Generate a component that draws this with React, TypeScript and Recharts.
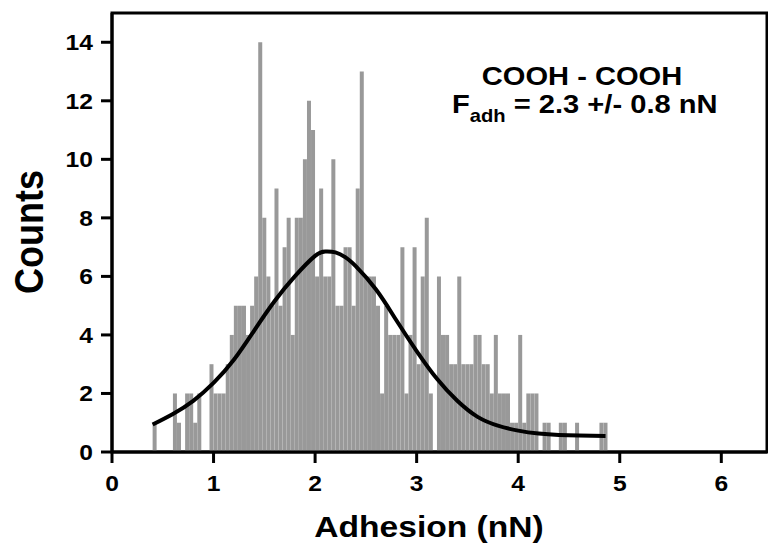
import React from 'react';
import {
  ComposedChart,
  Bar,
  Line,
  XAxis,
  YAxis,
  ReferenceArea,
  Customized,
} from 'recharts';

// Histogram: adhesion force bins (nN), counts per bin
const BIN_START = 0.4;
const BIN_WIDTH = 0.04;
const COUNTS = [
  1, 0, 0, 0, 0, 2, 1, 0, 2, 2,
  1, 2, 0, 0, 3, 2, 2, 2, 3, 4,
  5, 5, 5, 4, 5, 6, 14, 8, 6, 5,
  9, 5, 7, 8, 4, 8, 8, 10, 12, 11,
  6, 9, 6, 6, 10, 5, 5, 7, 7, 5,
  9, 13, 6, 6, 6, 5, 2, 5, 4, 4,
  4, 7, 2, 4, 7, 3, 6, 8, 2, 0,
  6, 4, 4, 3, 3, 6, 3, 3, 3, 4,
  4, 3, 3, 2, 4, 2, 2, 2, 1, 1,
  4, 1, 2, 2, 2, 0, 1, 1, 0, 0,
  1, 1, 0, 0, 1, 0, 0, 0, 0, 0,
  1, 1, 0,
];

// Gaussian fit curve
const FIT_X = [0.4, 0.6, 0.8, 1.0, 1.2, 1.4, 1.6, 1.8, 2.0, 2.1, 2.2, 2.3, 2.4, 2.6, 2.8, 3.0, 3.2, 3.4, 3.6, 3.8, 4.0, 4.2, 4.4, 4.6, 4.86];
const FIT_Y = [0.94, 1.3, 1.75, 2.36, 3.15, 4.15, 5.15, 6.0, 6.7, 6.85, 6.82, 6.65, 6.35, 5.55, 4.5, 3.45, 2.5, 1.75, 1.2, 0.9, 0.73, 0.63, 0.58, 0.56, 0.55];

const X_TICKS = [0, 1, 2, 3, 4, 5, 6];
const Y_TICKS = [0, 2, 4, 6, 8, 10, 12, 14];
const X_DOMAIN = [0, 6.45];
const Y_DOMAIN = [0, 15];

const TITLE_LINE1 = 'COOH - COOH';
const FIT_LABEL_MAIN = 'F';
const FIT_LABEL_SUB = 'adh';
const FIT_LABEL_REST = ' = 2.3 +/- 0.8 nN';
const X_TITLE = 'Adhesion (nN)';
const Y_TITLE = 'Counts';

const histData = COUNTS.map((c, i) => ({
  x: +(BIN_START + BIN_WIDTH * (i + 0.5)).toFixed(3),
  count: c,
}));
const fitData = FIT_X.map((x, i) => ({ x, fit: FIT_Y[i] }));

const FONT = '"Liberation Sans", Arial, Helvetica, sans-serif';
const SX = 1.12;

const XTick = (props: any) => {
  const { x, y, payload } = props;
  return (
    <text
      transform={`translate(${x},${y}) scale(${SX},1)`}
      textAnchor="middle"
      dy="0.71em"
      fontSize={22}
      fontWeight="bold"
      fontFamily={FONT}
      fill="#000"
    >
      {payload.value}
    </text>
  );
};

const YTick = (props: any) => {
  const { x, y, payload } = props;
  return (
    <text
      transform={`translate(${x},${y}) scale(${SX},1)`}
      textAnchor="end"
      dy="0.355em"
      fontSize={22}
      fontWeight="bold"
      fontFamily={FONT}
      fill="#000"
    >
      {payload.value}
    </text>
  );
};

const Annotations = () => (
  <g fontFamily={FONT} fontWeight="bold" fill="#000">
    <text transform={`translate(582,85) scale(${SX},1)`} textAnchor="middle" fontSize={26}>
      {TITLE_LINE1}
    </text>
    <text transform={`translate(452,112.5) scale(${SX},1)`} textAnchor="start" fontSize={26}>
      <tspan>{FIT_LABEL_MAIN}</tspan>
      <tspan fontSize={18} dy={9}>{FIT_LABEL_SUB}</tspan>
      <tspan fontSize={26} dy={-9}>{FIT_LABEL_REST}</tspan>
    </text>
    <text transform={`translate(429,536.5) scale(${SX},1)`} textAnchor="middle" fontSize={30}>
      {X_TITLE}
    </text>
    <text transform={`translate(43,232) scale(${SX},1) rotate(-90)`} textAnchor="middle" fontSize={36}>
      {Y_TITLE}
    </text>
  </g>
);

export default function App() {
  return (
    <div style={{ position: 'absolute', left: 0, top: 0, background: '#fff' }}>
      <ComposedChart
        width={768}
        height={546}
        data={histData}
        margin={{ top: 13, right: 1, bottom: 0, left: 0 }}
      >
        <XAxis
          dataKey="x"
          type="number"
          domain={X_DOMAIN}
          ticks={X_TICKS}
          allowDataOverflow
          height={94}
          tickSize={11}
          tickMargin={12}
          axisLine={{ stroke: '#000', strokeWidth: 3 }}
          tickLine={{ stroke: '#000', strokeWidth: 3 }}
          tick={<XTick />}
          interval={0}
        />
        <XAxis xAxisId="fit" dataKey="x" type="number" domain={X_DOMAIN} allowDataOverflow hide />
        <YAxis
          type="number"
          domain={Y_DOMAIN}
          ticks={Y_TICKS}
          allowDataOverflow
          width={112}
          tickSize={11}
          tickMargin={8}
          axisLine={{ stroke: '#000', strokeWidth: 3 }}
          tickLine={{ stroke: '#000', strokeWidth: 3 }}
          tick={<YTick />}
          interval={0}
        />
        <ReferenceArea
          x1={X_DOMAIN[0]}
          x2={X_DOMAIN[1]}
          y1={Y_DOMAIN[0]}
          y2={Y_DOMAIN[1]}
          fill="none"
          stroke="#000"
          strokeWidth={3}
          fillOpacity={0}
        />
        <Bar dataKey="count" fill="#999999" barSize={4} isAnimationActive={false} />
        <Line
          xAxisId="fit"
          data={fitData}
          dataKey="fit"
          type="natural"
          stroke="#000"
          strokeWidth={4}
          dot={false}
          isAnimationActive={false}
        />
        <Customized component={Annotations} />
      </ComposedChart>
    </div>
  );
}
